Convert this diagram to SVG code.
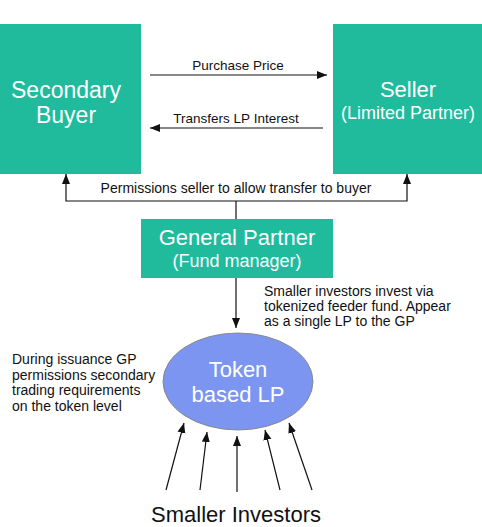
<svg xmlns="http://www.w3.org/2000/svg" width="482" height="527" viewBox="0 0 482 527">
<style>
.box{fill:#1fbb9c;}
.t{font-family:"Liberation Sans",Arial,sans-serif;text-anchor:middle;}
.w{fill:#fff;}
.k{fill:#111;}
.a{font-family:"Liberation Sans",Arial,sans-serif;font-size:14px;fill:#111;}
.ln{stroke:#111;stroke-width:1.2;fill:none;}
</style>
<defs>
<marker id="ah" viewBox="0 0 10 10" refX="10" refY="5" markerWidth="10" markerHeight="10" markerUnits="userSpaceOnUse" orient="auto">
<path d="M0,1 L10,5 L0,9 Z" fill="#111"/>
</marker>
</defs>
<rect width="482" height="527" fill="#fff"/>
<g id="buyer">
<rect class="box" x="0" y="24" width="141" height="150"/>
<text class="t w" x="66" y="98" font-size="23">Secondary</text>
<text class="t w" x="66" y="123" font-size="23">Buyer</text>
</g>
<g id="seller">
<rect class="box" x="333" y="24" width="149" height="150"/>
<text class="t w" x="408" y="97" font-size="22">Seller</text>
<text class="t w" x="408" y="119" font-size="18">(Limited Partner)</text>
</g>
<g id="gp">
<rect class="box" x="141" y="219" width="192" height="59"/>
<text class="t w" x="237" y="245" font-size="22">General Partner</text>
<text class="t w" x="237" y="267" font-size="18">(Fund manager)</text>
</g>
<g id="token">
<ellipse cx="238" cy="381.5" rx="75" ry="48.5" fill="#7b95f0" stroke="#888" stroke-width="1"/>
<text class="t w" x="238" y="377" font-size="22">Token</text>
<text class="t w" x="238" y="402" font-size="22">based LP</text>
</g>
<g id="investors">
<text class="t k" x="236" y="522" font-size="22">Smaller Investors</text>
</g>
<g id="connectors">
<line class="ln" x1="150" y1="75" x2="327" y2="75" marker-end="url(#ah)"/>
<line class="ln" x1="323" y1="128" x2="150" y2="128" marker-end="url(#ah)"/>
<polyline class="ln" points="66,174 66,201 407,201 407,174" />
<path d="M66,174 L62,184 L70,184 Z" fill="#111"/>
<path d="M407,174 L403,184 L411,184 Z" fill="#111"/>
<line class="ln" x1="236" y1="201" x2="236" y2="219"/>
<line class="ln" x1="236" y1="278" x2="236" y2="328" marker-end="url(#ah)"/>
<line class="ln" x1="166" y1="490" x2="184" y2="423" marker-end="url(#ah)"/>
<line class="ln" x1="200" y1="490" x2="207" y2="432" marker-end="url(#ah)"/>
<line class="ln" x1="237" y1="492" x2="237" y2="436" marker-end="url(#ah)"/>
<line class="ln" x1="280" y1="490" x2="265" y2="430" marker-end="url(#ah)"/>
<line class="ln" x1="312" y1="490" x2="289" y2="423" marker-end="url(#ah)"/>
</g>
<g id="labels">
<text class="t k" x="238" y="70" font-size="13.5">Purchase Price</text>
<text class="t k" x="236" y="123" font-size="13.5">Transfers LP Interest</text>
<text class="t k" x="236" y="193" font-size="14">Permissions seller to allow transfer to buyer</text>
<text class="a" x="264" y="296">Smaller investors invest via</text>
<text class="a" x="264" y="311">tokenized feeder fund. Appear</text>
<text class="a" x="264" y="326">as a single LP to the GP</text>
<text class="a" x="12" y="364" font-size="13.5">During issuance GP</text>
<text class="a" x="12" y="379.5" font-size="13.5">permissions secondary</text>
<text class="a" x="12" y="395" font-size="13.5">trading requirements</text>
<text class="a" x="12" y="410.5" font-size="13.5">on the token level</text>
</g>
</svg>
